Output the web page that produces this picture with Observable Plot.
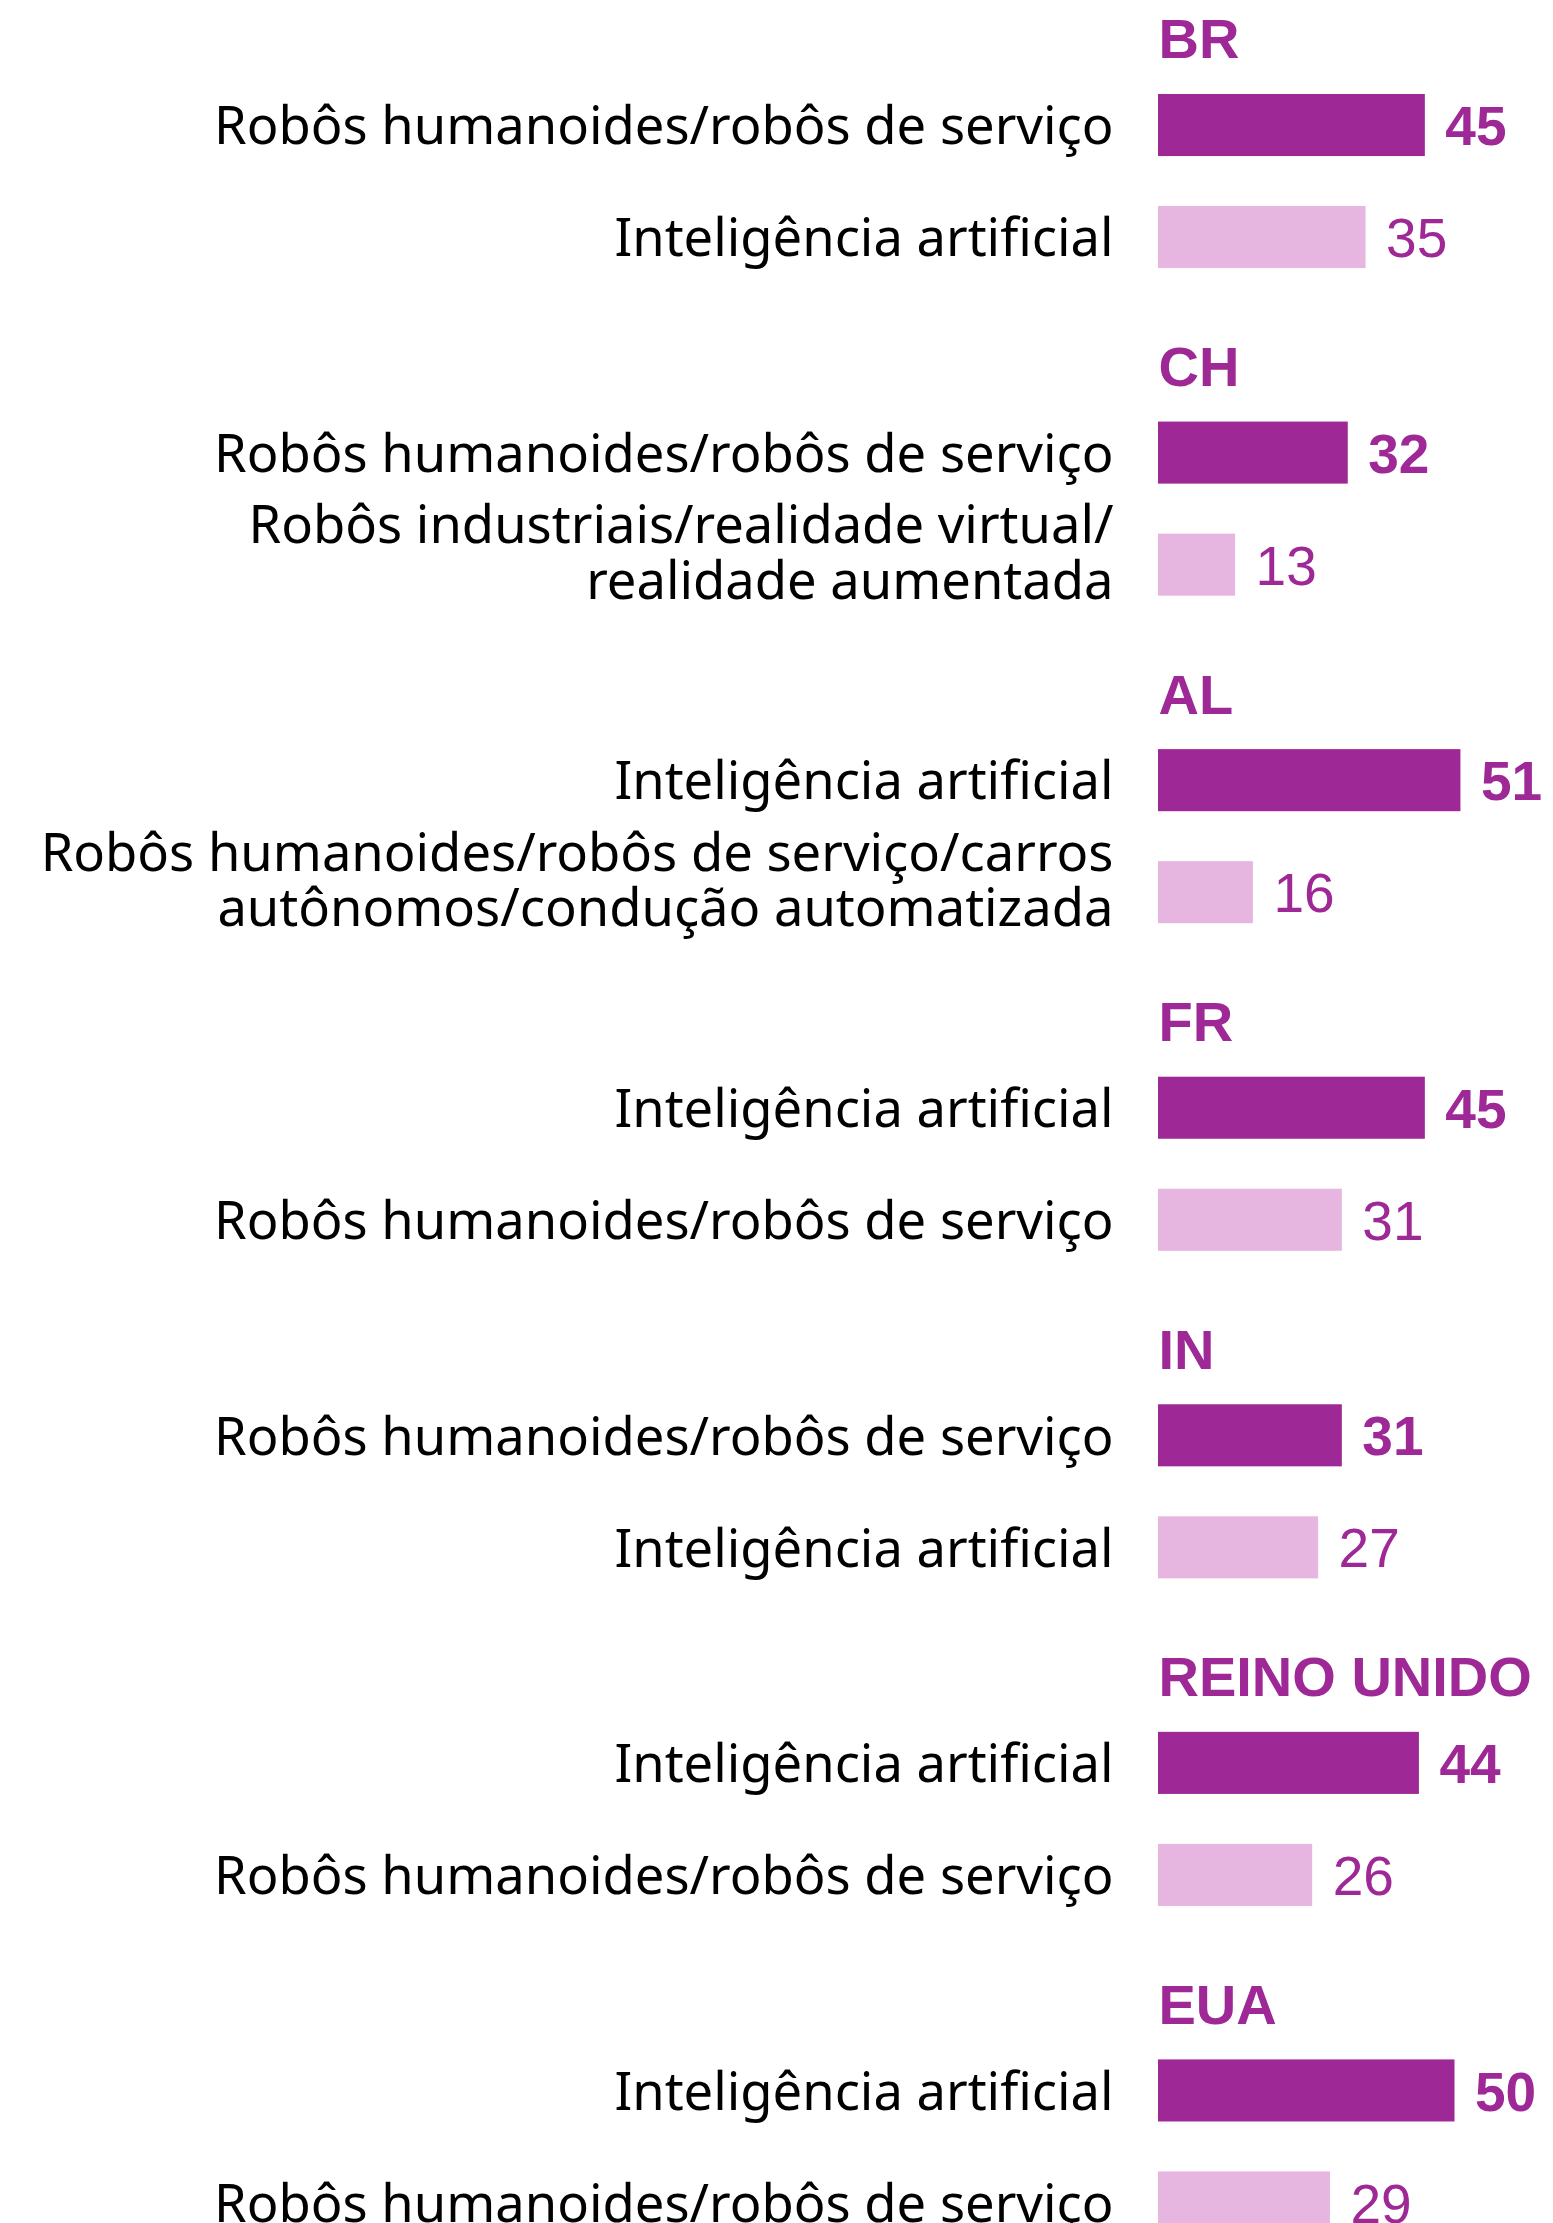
<!DOCTYPE html>
<html>
<head>
<meta charset="utf-8">
<script src="https://cdn.jsdelivr.net/npm/d3@7"></script>
<script src="https://cdn.jsdelivr.net/npm/@observablehq/plot@0.6"></script>
<style>
  html, body { margin: 0; padding: 0; background: #ffffff; }
  #wrap { width: 1553px; height: 2223px; overflow: hidden; }
</style>
</head>
<body>
<div id="wrap"></div>
<script>
const countries = ["BR", "CH", "AL", "FR", "IN", "REINO UNIDO", "EUA"];
const firstLabels = [
  "Robôs humanoides/robôs de serviço",
  "Robôs humanoides/robôs de serviço",
  "Inteligência artificial",
  "Inteligência artificial",
  "Robôs humanoides/robôs de serviço",
  "Inteligência artificial",
  "Inteligência artificial"
];
const firstValues = [45, 32, 51, 45, 31, 44, 50];
const secondLabels = [
  "Inteligência artificial",
  "Robôs industriais/realidade virtual/\nrealidade aumentada",
  "Robôs humanoides/robôs de serviço/carros\nautônomos/condução automatizada",
  "Robôs humanoides/robôs de serviço",
  "Inteligência artificial",
  "Robôs humanoides/robôs de serviço",
  "Robôs humanoides/robôs de serviço"
];
const secondValues = [35, 13, 16, 31, 27, 26, 29];
const ranks = ["1", "2"];
const colors = ["#9e2896", "#e6b6e1"];

const rows = [];
countries.forEach((c, i) => {
  rows.push({country: c, rank: ranks[0], label: firstLabels[i], value: firstValues[i]});
  rows.push({country: c, rank: ranks[1], label: secondLabels[i], value: secondValues[i]});
});
const single = rows.filter(d => !d.label.includes("\n"));
const multi = rows.filter(d => d.label.includes("\n"));

const labelStyle = {
  x: () => 0, y: "rank", fy: "country", text: "label",
  textAnchor: "end", dx: -45, lineHeight: 1.06,
  fontFamily: "Noto Sans", fontSize: 52.5, fill: "#000000"
};

const chart = Plot.plot({
  width: 1553,
  height: 2293,
  marginTop: 0,
  marginBottom: 0,
  marginLeft: 0,
  marginRight: 0,
  fy: {domain: countries, padding: 0, round: false, axis: null},
  y: {domain: ranks, axis: null, round: false, paddingInner: 0.446, paddingOuter: 0.223, insetTop: 69, insetBottom: 34.5},
  x: {domain: [0, 60], range: [1158, 1158 + 60 * 5.93], axis: null},
  color: {domain: ranks, range: colors},
  marks: [
    Plot.barX(rows, {x: "value", y: "rank", fy: "country", fill: "rank"}),
    Plot.text(single, {...labelStyle, dy: 1}),
    Plot.text(multi, {...labelStyle, dy: -12}),
    Plot.text(rows.filter(d => d.rank === ranks[0]), {
      x: "value", y: "rank", fy: "country", text: d => String(d.value),
      textAnchor: "start", dx: 20, dy: 2,
      fontFamily: "Liberation Sans", fontWeight: "bold", fontSize: 55, fill: colors[0]
    }),
    Plot.text(rows.filter(d => d.rank === ranks[1]), {
      x: "value", y: "rank", fy: "country", text: d => String(d.value),
      textAnchor: "start", dx: 20, dy: 2,
      fontFamily: "Liberation Sans", fontWeight: "normal", fontSize: 55, fill: colors[0]
    }),
    Plot.text(countries, {
      x: () => 0, y: () => ranks[0], fy: d => d, text: d => d,
      textAnchor: "start", dx: 0, dy: -85,
      fontFamily: "Liberation Sans", fontWeight: "bold", fontSize: 56, fill: colors[0]
    })
  ]
});
document.getElementById("wrap").appendChild(chart);
</script>
</body>
</html>
